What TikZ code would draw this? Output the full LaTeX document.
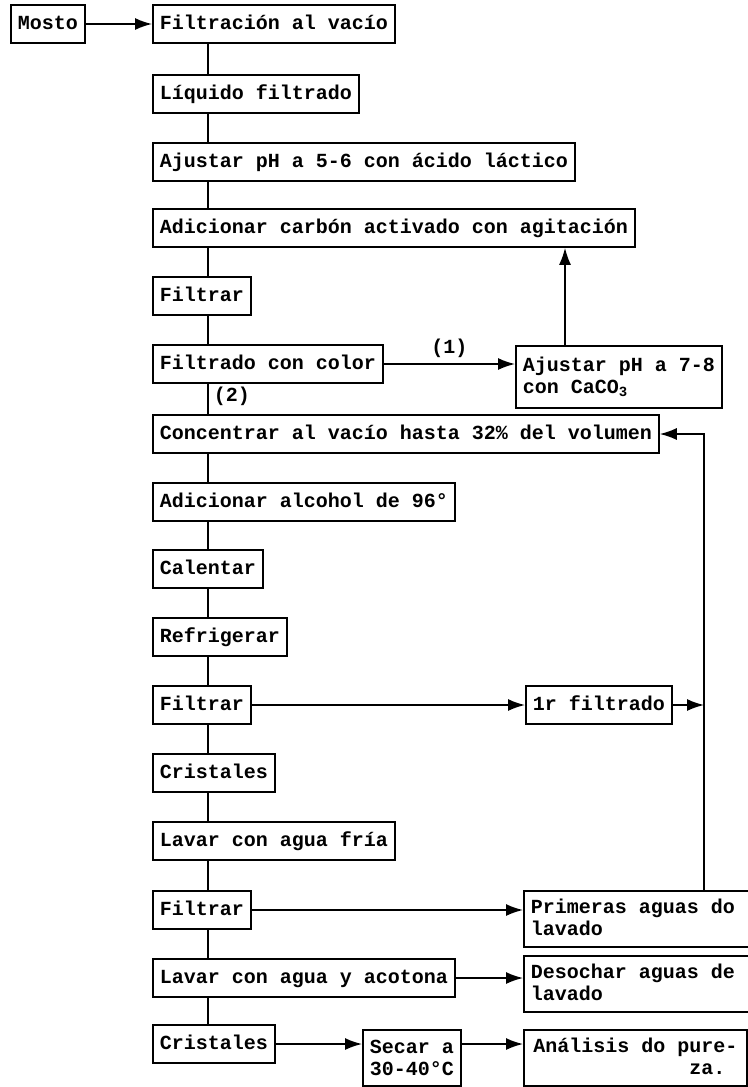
\documentclass[tikz,border=0pt]{standalone}
\usepackage{fontspec}
\setmainfont{Liberation Mono}
\usetikzlibrary{arrows.meta,calc}
\newcommand\tyfont{\fontsize{20}{22}\selectfont\bfseries}
\begin{document}
\begin{tikzpicture}[x=1pt,y=-1pt,
  box/.style={draw, line width=1.7pt, anchor=west, inner xsep=7pt, inner ysep=2pt,
     minimum height=38pt, font=\tyfont, text height=14pt, text depth=4pt},
  tbox/.style={draw, line width=1.7pt, anchor=west, inner xsep=7pt, inner ysep=3pt,
     font=\tyfont, align=left},
  conn/.style={line width=1.6pt},
  arr/.style={line width=1.6pt, -{Latex[length=17pt,width=12pt]}},
  lbl/.style={font=\tyfont, inner sep=1pt}]
\useasboundingbox (0,0) rectangle (747,1087);
\coordinate (spine) at (208,0);
\coordinate (rx) at (704,0);
\coordinate (upx) at (565,0);

% left column
\node[box, anchor=west] (mosto) at (10,24) {Mosto};
\node[box] (filv) at (152,24) {Filtración al vacío};
\node[box] (liq) at (152,94) {Líquido filtrado};
\node[box] (aj56) at (152,162) {Ajustar pH a 5-6 con ácido láctico};
\node[box] (adc) at (152,228) {Adicionar carbón activado con agitación};
\node[box] (f1) at (152,296) {Filtrar};
\node[box] (fcol) at (152,364) {Filtrado con color};
\node[box] (conc) at (152,434) {Concentrar al vacío hasta 32\% del volumen};
\node[box] (alc) at (152,502) {Adicionar alcohol de 96°};
\node[box] (cal) at (152,569) {Calentar};
\node[box] (ref) at (152,637) {Refrigerar};
\node[box] (f2) at (152,705) {Filtrar};
\node[box] (cr1) at (152,773) {Cristales};
\node[box] (lfr) at (152,841) {Lavar con agua fría};
\node[box] (f3) at (152,910) {Filtrar};
\node[box] (lac) at (152,978) {Lavar con agua y acotona};
\node[box] (cr2) at (152,1044) {Cristales};

% right side
\node[tbox, minimum height=62pt] (aj78) at (515,377) {Ajustar pH a 7-8\\con CaCO\textsubscript{3}};
\node[box] (r1) at (525,705) {1r filtrado};
\node[tbox, minimum height=56pt, minimum width=223pt] (prim) at (523,919) {Primeras aguas do\\lavado\phantom{aguas do Primer}};
\node[tbox, minimum height=56pt, minimum width=223pt] (deso) at (523,984) {Desochar aguas de\\lavado\phantom{aguas de Desoch}};
\node[tbox, minimum height=56pt] (sec) at (362,1058) {Secar a\\30-40°C};
\node[tbox, minimum height=56pt, minimum width=223pt] (ana) at (523,1058) {Análisis do pure-\\\phantom{Análisis do p}za.\phantom{-}};

% spine connectors
\foreach \a/\b in {filv/liq, liq/aj56, aj56/adc, adc/f1, f1/fcol, fcol/conc, conc/alc,
                   alc/cal, cal/ref, ref/f2, f2/cr1, cr1/lfr, lfr/f3, f3/lac, lac/cr2}
  \draw[conn] (\a.south -| spine) -- (\b.north -| spine);

\node[lbl] (l2) at (232,396) {(2)};

% arrows
\draw[arr] (mosto.east) -- (filv.west);
\draw[arr] (fcol.east) -- node[lbl, above=5pt] (l1) {(1)} (fcol.east -| aj78.west);
\draw[arr] (aj78.north -| upx) -- (adc.south -| upx);
\draw[arr] (f2.east) -- (r1.west);
\draw[arr] (r1.east) -- (r1.east -| rx);
\draw[arr] (prim.north -| rx) -- (conc.east -| rx) -- (conc.east);
\draw[arr] (f3.east) -- (f3.east -| prim.west);
\draw[arr] (lac.east) -- (lac.east -| deso.west);
\draw[arr] (cr2.east) -- (cr2.east -| sec.west);
\draw[arr] (sec.east |- cr2.east) -- (cr2.east -| ana.west);
\end{tikzpicture}
\end{document}
